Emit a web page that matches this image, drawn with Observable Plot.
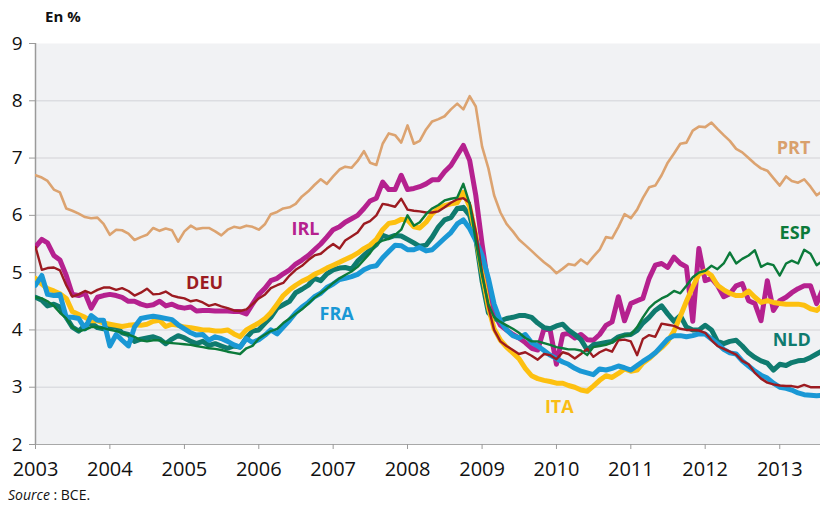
<!DOCTYPE html>
<html><head><meta charset="utf-8">
<script src="https://cdn.jsdelivr.net/npm/d3@7"></script>
<script src="https://cdn.jsdelivr.net/npm/@observablehq/plot@0.6"></script>
<style>
body{margin:0;background:#fff;font-family:"Open Sans",sans-serif;}
#wrap{position:relative;width:820px;height:505px;overflow:hidden;}
#chart{position:absolute;left:0;top:0;}
#unit{position:absolute;left:45px;top:6px;font-weight:bold;font-size:15px;line-height:20px;color:#111;}
#src{position:absolute;left:8px;top:485px;font-size:14px;line-height:20px;color:#111;}
</style></head><body>
<div id="wrap"><div id="chart"></div><div id="unit">En %</div><div id="src"><i>Source</i> : BCE.</div></div>
<script>
// Monthly long-term rates, Jan 2003 – Aug 2013 (one row per year)
const PRT = [
6.70,6.66,6.60,6.45,6.40,6.12,6.08,6.03,5.97,5.95,5.96,5.85,
5.66,5.75,5.74,5.68,5.57,5.62,5.66,5.78,5.73,5.77,5.74,5.54,
5.72,5.82,5.76,5.78,5.78,5.72,5.65,5.75,5.80,5.78,5.82,5.80,
5.75,5.85,6.02,6.06,6.12,6.14,6.20,6.33,6.42,6.53,6.63,6.55,
6.68,6.80,6.85,6.83,6.95,7.12,6.92,6.88,7.25,7.43,7.40,7.27,
7.57,7.25,7.30,7.50,7.64,7.68,7.73,7.85,7.95,7.85,8.08,7.90,
7.20,6.82,6.35,6.05,5.85,5.72,5.58,5.48,5.38,5.28,5.18,5.10,
4.99,5.07,5.15,5.13,5.23,5.15,5.28,5.40,5.62,5.60,5.80,6.02,
5.95,6.10,6.30,6.49,6.52,6.70,6.92,7.08,7.25,7.27,7.48,7.55,
7.54,7.62,7.51,7.40,7.30,7.16,7.10,7.00,6.90,6.82,6.78,6.65,
6.52,6.68,6.60,6.57,6.63,6.50,6.35,6.43];
const IRL = [
5.45,5.58,5.52,5.30,5.22,4.95,4.62,4.60,4.64,4.38,4.57,4.60,
4.62,4.60,4.57,4.50,4.50,4.45,4.42,4.44,4.50,4.42,4.45,4.40,
4.38,4.40,4.33,4.34,4.34,4.33,4.33,4.33,4.32,4.32,4.28,4.45,
4.62,4.73,4.86,4.90,4.98,5.05,5.15,5.22,5.30,5.40,5.50,5.62,
5.75,5.80,5.88,5.94,6.00,6.12,6.25,6.30,6.58,6.45,6.45,6.70,
6.45,6.47,6.50,6.55,6.62,6.62,6.76,6.87,7.05,7.22,6.96,6.35,
5.50,4.75,4.28,4.08,4.00,3.92,3.86,3.78,3.68,3.65,4.02,4.00,
3.40,3.92,3.94,3.86,3.92,3.83,3.82,3.92,4.08,4.14,4.58,4.16,
4.46,4.51,4.55,4.90,5.13,5.16,5.09,5.27,5.16,5.10,4.15,5.42,
4.86,4.90,4.78,4.58,4.63,4.77,4.81,4.51,4.46,4.16,4.86,4.34,
4.51,4.57,4.65,4.72,4.77,4.77,4.46,4.72];
const DEU = [
5.45,5.05,5.08,5.09,5.04,4.78,4.58,4.62,4.68,4.64,4.70,4.74,
4.74,4.70,4.73,4.68,4.60,4.65,4.72,4.62,4.63,4.67,4.60,4.57,
4.55,4.50,4.52,4.48,4.42,4.45,4.41,4.38,4.34,4.33,4.36,4.45,
4.55,4.62,4.73,4.78,4.82,4.95,5.05,5.12,5.22,5.30,5.33,5.42,
5.50,5.42,5.56,5.63,5.70,5.85,5.90,6.00,6.20,6.18,6.15,6.29,
6.10,6.08,6.07,6.05,6.05,6.07,6.14,6.22,6.28,6.30,6.22,5.72,
5.00,4.40,4.00,3.80,3.72,3.65,3.58,3.61,3.55,3.48,3.58,3.56,
3.49,3.61,3.58,3.50,3.58,3.67,3.53,3.61,3.66,3.62,3.82,3.83,
3.80,3.56,3.84,3.91,3.88,4.11,4.09,4.07,4.02,4.00,4.00,3.99,
3.95,3.82,3.72,3.67,3.62,3.57,3.46,3.40,3.25,3.15,3.08,3.05,
3.03,3.02,3.02,3.00,3.04,3.00,3.00,3.00];
const ITA = [
4.90,4.80,4.72,4.68,4.63,4.55,4.32,4.27,4.22,4.16,4.16,4.12,
4.10,4.08,4.06,4.08,4.09,4.08,4.10,4.15,4.17,4.06,4.10,4.08,
4.05,4.04,4.02,4.00,4.00,3.98,3.98,4.00,3.93,3.88,4.00,4.06,
4.12,4.20,4.30,4.45,4.60,4.70,4.78,4.85,4.90,4.97,5.02,5.08,
5.13,5.18,5.23,5.28,5.34,5.42,5.48,5.58,5.75,5.86,5.88,5.93,
5.92,5.80,5.78,5.88,6.03,6.12,6.17,6.20,6.22,6.40,6.15,5.65,
5.00,4.40,4.02,3.82,3.70,3.60,3.50,3.33,3.20,3.15,3.12,3.10,
3.07,3.07,3.03,3.00,2.95,2.93,3.02,3.12,3.20,3.17,3.24,3.32,
3.28,3.30,3.42,3.50,3.60,3.69,3.80,3.98,4.24,4.50,4.75,4.97,
5.03,4.95,4.78,4.70,4.64,4.60,4.60,4.68,4.57,4.48,4.51,4.48,
4.46,4.45,4.45,4.45,4.43,4.37,4.34,4.43];
const FRA = [
4.78,4.95,4.62,4.60,4.62,4.22,4.22,4.20,4.02,4.25,4.17,4.17,
3.72,3.92,3.82,3.72,4.05,4.20,4.22,4.24,4.22,4.20,4.18,4.09,
4.02,3.95,3.91,3.92,3.82,3.88,3.85,3.80,3.74,3.70,3.85,3.78,
3.83,3.91,4.00,3.93,4.05,4.17,4.30,4.40,4.48,4.58,4.64,4.74,
4.80,4.88,4.90,4.93,4.97,5.05,5.10,5.12,5.26,5.37,5.48,5.47,
5.40,5.40,5.44,5.38,5.40,5.50,5.60,5.70,5.85,5.92,5.77,5.56,
5.30,4.90,4.45,4.15,4.00,3.90,3.86,3.92,3.78,3.72,3.64,3.56,
3.50,3.44,3.40,3.33,3.28,3.25,3.22,3.32,3.30,3.33,3.37,3.34,
3.30,3.38,3.45,3.52,3.60,3.72,3.84,3.90,3.90,3.88,3.90,3.93,
3.93,3.84,3.76,3.66,3.60,3.58,3.46,3.37,3.28,3.21,3.16,3.07,
3.00,2.98,2.95,2.90,2.87,2.86,2.85,2.86];
const ESP = [
4.57,4.55,4.50,4.42,4.30,4.20,4.05,3.98,4.00,4.05,4.05,4.03,
4.00,3.98,3.95,3.92,3.88,3.82,3.80,3.82,3.82,3.78,3.77,3.76,
3.75,3.74,3.72,3.70,3.68,3.67,3.65,3.62,3.60,3.58,3.68,3.72,
3.85,3.92,3.98,4.02,4.12,4.20,4.28,4.36,4.46,4.56,4.64,4.72,
4.82,4.90,4.96,5.02,5.10,5.22,5.34,5.50,5.56,5.59,5.66,5.75,
6.00,5.82,5.88,6.02,6.12,6.18,6.26,6.29,6.31,6.55,6.20,5.55,
4.95,4.45,4.22,4.14,4.08,4.02,3.95,3.86,3.80,3.80,3.77,3.74,
3.70,3.68,3.66,3.66,3.64,3.56,3.70,3.72,3.74,3.78,3.86,3.90,
3.92,4.05,4.22,4.38,4.48,4.55,4.60,4.68,4.64,4.77,4.92,5.00,
5.03,5.12,5.06,5.16,5.35,5.16,5.24,5.30,5.39,5.10,5.16,5.13,
4.95,5.16,5.21,5.16,5.40,5.33,5.13,5.21];
const NLD = [
4.57,4.52,4.42,4.45,4.40,4.22,4.05,3.98,4.08,4.12,4.04,4.02,
4.04,4.05,3.95,3.92,3.80,3.84,3.86,3.88,3.84,3.76,3.84,3.90,
3.86,3.80,3.76,3.80,3.73,3.76,3.72,3.68,3.72,3.70,3.86,3.98,
4.00,4.12,4.22,4.38,4.44,4.50,4.65,4.71,4.78,4.90,4.86,4.98,
5.05,5.08,5.09,5.06,5.20,5.30,5.40,5.49,5.65,5.61,5.65,5.64,
5.58,5.52,5.46,5.48,5.62,5.80,5.92,5.96,6.12,6.14,6.00,5.60,
4.85,4.30,4.20,4.16,4.20,4.22,4.25,4.25,4.22,4.12,4.04,4.02,
4.07,4.10,4.00,3.92,3.83,3.65,3.74,3.76,3.78,3.80,3.88,3.91,
3.92,3.99,4.12,4.22,4.34,4.42,4.28,4.15,4.25,4.05,4.00,4.00,
4.08,4.00,3.80,3.76,3.80,3.82,3.72,3.60,3.52,3.46,3.42,3.30,
3.40,3.38,3.43,3.46,3.47,3.52,3.58,3.64];

const yTicks = [2, 3, 4, 5, 6, 7, 8, 9];
const gridValues = [3, 4, 5, 6, 7, 8];
const years = [2003, 2004, 2005, 2006, 2007, 2008, 2009, 2010, 2011, 2012, 2013];

// series label anchors (date, value)
const labelNames  = ["PRT", "IRL", "DEU", "FRA", "ITA", "ESP", "NLD"];
const labelDates  = ["2013-03-10", "2006-08-18", "2005-04-10", "2007-01-18", "2010-01-15", "2013-03-18", "2013-03-01"];
const labelValues = [7.17, 5.75, 4.81, 4.27, 2.65, 5.68, 3.82];

const colors = {PRT:"#dca370", IRL:"#b5218f", DEU:"#9c1b21", FRA:"#1a98d5", ITA:"#fdc010", ESP:"#0b7a3a", NLD:"#0f7b6f"};
const labelColors = {PRT:"#d9a06c", IRL:"#b5218f", DEU:"#9c1b21", FRA:"#1a98d5", ITA:"#f9bd14", ESP:"#0b7a3a", NLD:"#0f7b6f"};

const start = new Date(Date.UTC(2003, 0, 1));
const end = new Date(Date.UTC(2013, 6, 20));
const dates = d3.utcMonth.range(start, new Date(Date.UTC(2013, 8, 1)));

const seriesDefs = [
  {name:"PRT", values:PRT, width:2.6},
  {name:"IRL", values:IRL, width:5},
  {name:"NLD", values:NLD, width:5},
  {name:"ITA", values:ITA, width:5},
  {name:"FRA", values:FRA, width:5},
  {name:"DEU", values:DEU, width:2.4},
  {name:"ESP", values:ESP, width:2.4}
];

const lineMarks = seriesDefs.map(s =>
  Plot.line(s.values.map((v, i) => ({date: dates[i], value: v})), {
    x: "date", y: "value", stroke: colors[s.name], strokeWidth: s.width,
    strokeLinejoin: "round", strokeLinecap: "round", clip: true
  })
);

const labels = labelNames.map((n, i) => ({name: n, date: new Date(labelDates[i]), value: labelValues[i]}));
const yearDates = years.map(y => new Date(Date.UTC(y, 0, 1)));

const chart = Plot.plot({
  width: 820, height: 492,
  marginTop: 43, marginLeft: 35, marginRight: 0, marginBottom: 48,
  style: {fontFamily: "'Open Sans', sans-serif", background: "transparent", color: "#111"},
  x: {type: "utc", domain: [start, end]},
  y: {domain: [2, 9]},
  marks: [
    Plot.frame({fill: "#f1f2f4", stroke: null}),
    Plot.ruleY(gridValues, {stroke: "#dcdde1", strokeWidth: 1.5}),
    Plot.ruleY([2], {stroke: "#a8a8a8", strokeWidth: 1}),
    Plot.ruleX([start], {stroke: "#9a9a9a", strokeWidth: 1.5}),
    Plot.axisX(yearDates, {tickFormat: d => String(d.getUTCFullYear()), tickSize: 5, tickPadding: 12,
      fontSize: 20, stroke: "#9a9a9a", fill: "#111", label: null}),
    Plot.axisY(yTicks, {tickFormat: d => String(d), tickSize: 6, tickPadding: 7, fontSize: 19,
      stroke: "#9a9a9a", fill: "#111", label: null}),
    ...lineMarks,
    ...labels.map(l => Plot.text([l], {x: "date", y: "value", text: "name", fill: labelColors[l.name],
      fontSize: 18, fontWeight: "bold"}))
  ]
});
document.getElementById("chart").appendChild(chart);
</script>
</body></html>
